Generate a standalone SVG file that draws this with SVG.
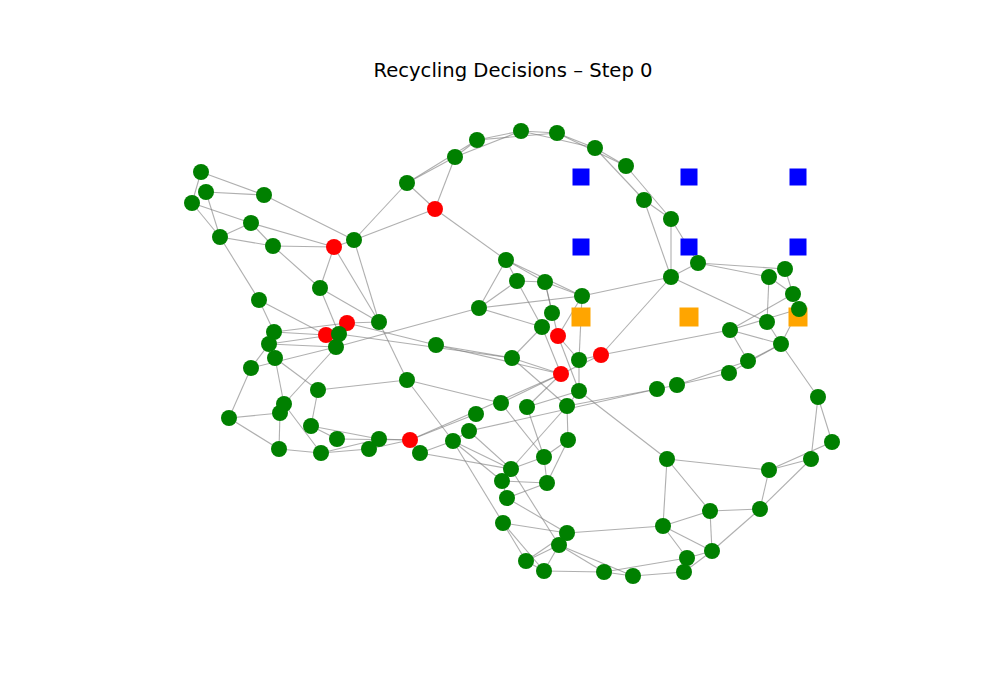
<svg xmlns="http://www.w3.org/2000/svg" width="1000" height="700" viewBox="0 0 1000 700">
<style>
.e line{stroke:#7a7a7a;stroke-opacity:0.6;stroke-width:1.1}
.g{fill:#008000}
.r{fill:#ff0000}
.b{fill:#0000ff}
.o{fill:#ffa500}
.t{font-family:"DejaVu Sans",sans-serif;font-size:19.6px;fill:#000}
circle{r:8px}
</style>
<rect width="1000" height="700" fill="#ffffff"/>
<text class="t" x="513" y="77" text-anchor="middle">Recycling Decisions – Step 0</text>
<g id="connectors" class="e">
<line x1="201" y1="172" x2="264" y2="195"/>
<line x1="201" y1="172" x2="192" y2="203"/>
<line x1="206" y1="192" x2="264" y2="195"/>
<line x1="206" y1="192" x2="220" y2="237"/>
<line x1="192" y1="203" x2="251" y2="223"/>
<line x1="192" y1="203" x2="220" y2="237"/>
<line x1="251" y1="223" x2="220" y2="237"/>
<line x1="251" y1="223" x2="273" y2="246"/>
<line x1="251" y1="223" x2="334" y2="247"/>
<line x1="220" y1="237" x2="273" y2="246"/>
<line x1="273" y1="246" x2="334" y2="247"/>
<line x1="220" y1="237" x2="259" y2="300"/>
<line x1="264" y1="195" x2="354" y2="240"/>
<line x1="273" y1="246" x2="320" y2="288"/>
<line x1="334" y1="247" x2="320" y2="288"/>
<line x1="334" y1="247" x2="379" y2="322"/>
<line x1="354" y1="240" x2="379" y2="322"/>
<line x1="334" y1="247" x2="354" y2="240"/>
<line x1="354" y1="240" x2="407" y2="183"/>
<line x1="354" y1="240" x2="435" y2="209"/>
<line x1="407" y1="183" x2="435" y2="209"/>
<line x1="435" y1="209" x2="455" y2="157"/>
<line x1="435" y1="209" x2="506" y2="260"/>
<line x1="407" y1="183" x2="455" y2="157"/>
<line x1="407" y1="183" x2="477" y2="140"/>
<line x1="455" y1="157" x2="477" y2="140"/>
<line x1="455" y1="157" x2="521" y2="131"/>
<line x1="477" y1="140" x2="521" y2="131"/>
<line x1="477" y1="140" x2="557" y2="133"/>
<line x1="521" y1="131" x2="557" y2="133"/>
<line x1="521" y1="131" x2="595" y2="148"/>
<line x1="557" y1="133" x2="595" y2="148"/>
<line x1="595" y1="148" x2="626" y2="166"/>
<line x1="557" y1="133" x2="626" y2="166"/>
<line x1="595" y1="148" x2="644" y2="200"/>
<line x1="626" y1="166" x2="671" y2="219"/>
<line x1="644" y1="200" x2="671" y2="219"/>
<line x1="644" y1="200" x2="671" y2="277"/>
<line x1="671" y1="219" x2="671" y2="277"/>
<line x1="671" y1="219" x2="698" y2="263"/>
<line x1="671" y1="277" x2="698" y2="263"/>
<line x1="698" y1="263" x2="769" y2="277"/>
<line x1="698" y1="263" x2="785" y2="269"/>
<line x1="769" y1="277" x2="793" y2="294"/>
<line x1="785" y1="269" x2="793" y2="294"/>
<line x1="769" y1="277" x2="767" y2="322"/>
<line x1="671" y1="277" x2="582" y2="296"/>
<line x1="671" y1="277" x2="601" y2="355"/>
<line x1="671" y1="277" x2="767" y2="322"/>
<line x1="793" y1="294" x2="730" y2="330"/>
<line x1="730" y1="330" x2="799" y2="309"/>
<line x1="767" y1="322" x2="781" y2="344"/>
<line x1="799" y1="309" x2="781" y2="344"/>
<line x1="730" y1="330" x2="781" y2="344"/>
<line x1="730" y1="330" x2="748" y2="361"/>
<line x1="781" y1="344" x2="748" y2="361"/>
<line x1="781" y1="344" x2="729" y2="373"/>
<line x1="748" y1="361" x2="677" y2="385"/>
<line x1="729" y1="373" x2="677" y2="385"/>
<line x1="677" y1="385" x2="657" y2="389"/>
<line x1="469" y1="431" x2="657" y2="389"/>
<line x1="567" y1="406" x2="657" y2="389"/>
<line x1="601" y1="355" x2="730" y2="330"/>
<line x1="781" y1="344" x2="818" y2="397"/>
<line x1="818" y1="397" x2="811" y2="459"/>
<line x1="818" y1="397" x2="832" y2="442"/>
<line x1="579" y1="391" x2="667" y2="459"/>
<line x1="667" y1="459" x2="769" y2="470"/>
<line x1="667" y1="459" x2="663" y2="526"/>
<line x1="667" y1="459" x2="710" y2="511"/>
<line x1="769" y1="470" x2="811" y2="459"/>
<line x1="769" y1="470" x2="832" y2="442"/>
<line x1="769" y1="470" x2="760" y2="509"/>
<line x1="811" y1="459" x2="760" y2="509"/>
<line x1="760" y1="509" x2="710" y2="511"/>
<line x1="760" y1="509" x2="712" y2="551"/>
<line x1="710" y1="511" x2="712" y2="551"/>
<line x1="710" y1="511" x2="663" y2="526"/>
<line x1="663" y1="526" x2="712" y2="551"/>
<line x1="663" y1="526" x2="687" y2="558"/>
<line x1="663" y1="526" x2="567" y2="533"/>
<line x1="712" y1="551" x2="684" y2="572"/>
<line x1="712" y1="551" x2="687" y2="558"/>
<line x1="687" y1="558" x2="604" y2="572"/>
<line x1="684" y1="572" x2="633" y2="576"/>
<line x1="633" y1="576" x2="604" y2="572"/>
<line x1="604" y1="572" x2="544" y2="571"/>
<line x1="559" y1="545" x2="604" y2="572"/>
<line x1="559" y1="545" x2="633" y2="576"/>
<line x1="410" y1="440" x2="420" y2="453"/>
<line x1="420" y1="453" x2="453" y2="441"/>
<line x1="420" y1="453" x2="511" y2="469"/>
<line x1="453" y1="441" x2="469" y2="431"/>
<line x1="453" y1="441" x2="502" y2="481"/>
<line x1="453" y1="441" x2="503" y2="523"/>
<line x1="453" y1="441" x2="511" y2="469"/>
<line x1="469" y1="431" x2="511" y2="469"/>
<line x1="407" y1="380" x2="453" y2="441"/>
<line x1="544" y1="457" x2="568" y2="440"/>
<line x1="544" y1="457" x2="547" y2="483"/>
<line x1="568" y1="440" x2="547" y2="483"/>
<line x1="544" y1="457" x2="511" y2="469"/>
<line x1="511" y1="469" x2="502" y2="481"/>
<line x1="502" y1="481" x2="547" y2="483"/>
<line x1="507" y1="498" x2="547" y2="483"/>
<line x1="502" y1="481" x2="507" y2="498"/>
<line x1="507" y1="498" x2="567" y2="533"/>
<line x1="503" y1="523" x2="567" y2="533"/>
<line x1="503" y1="523" x2="526" y2="561"/>
<line x1="503" y1="523" x2="544" y2="571"/>
<line x1="526" y1="561" x2="559" y2="545"/>
<line x1="526" y1="561" x2="567" y2="533"/>
<line x1="544" y1="571" x2="559" y2="545"/>
<line x1="526" y1="561" x2="544" y2="571"/>
<line x1="511" y1="469" x2="559" y2="545"/>
<line x1="544" y1="457" x2="527" y2="407"/>
<line x1="568" y1="440" x2="567" y2="406"/>
<line x1="511" y1="469" x2="567" y2="406"/>
<line x1="229" y1="418" x2="280" y2="413"/>
<line x1="229" y1="418" x2="279" y2="449"/>
<line x1="280" y1="413" x2="279" y2="449"/>
<line x1="284" y1="404" x2="321" y2="453"/>
<line x1="279" y1="449" x2="321" y2="453"/>
<line x1="311" y1="426" x2="337" y2="439"/>
<line x1="311" y1="426" x2="379" y2="439"/>
<line x1="337" y1="439" x2="410" y2="440"/>
<line x1="321" y1="453" x2="369" y2="449"/>
<line x1="321" y1="453" x2="379" y2="439"/>
<line x1="369" y1="449" x2="379" y2="439"/>
<line x1="379" y1="439" x2="410" y2="440"/>
<line x1="369" y1="449" x2="410" y2="440"/>
<line x1="259" y1="300" x2="274" y2="332"/>
<line x1="259" y1="300" x2="326" y2="335"/>
<line x1="320" y1="288" x2="339" y2="334"/>
<line x1="320" y1="288" x2="379" y2="322"/>
<line x1="274" y1="332" x2="347" y2="323"/>
<line x1="274" y1="332" x2="326" y2="335"/>
<line x1="269" y1="344" x2="339" y2="334"/>
<line x1="269" y1="344" x2="336" y2="347"/>
<line x1="274" y1="332" x2="269" y2="344"/>
<line x1="269" y1="344" x2="251" y2="368"/>
<line x1="251" y1="368" x2="336" y2="347"/>
<line x1="275" y1="358" x2="318" y2="390"/>
<line x1="275" y1="358" x2="284" y2="404"/>
<line x1="251" y1="368" x2="229" y2="418"/>
<line x1="336" y1="347" x2="479" y2="308"/>
<line x1="336" y1="347" x2="284" y2="404"/>
<line x1="339" y1="334" x2="512" y2="358"/>
<line x1="347" y1="323" x2="436" y2="345"/>
<line x1="347" y1="323" x2="379" y2="322"/>
<line x1="318" y1="390" x2="407" y2="380"/>
<line x1="318" y1="390" x2="311" y2="426"/>
<line x1="379" y1="322" x2="407" y2="380"/>
<line x1="407" y1="380" x2="501" y2="403"/>
<line x1="506" y1="260" x2="517" y2="281"/>
<line x1="506" y1="260" x2="545" y2="282"/>
<line x1="506" y1="260" x2="479" y2="308"/>
<line x1="506" y1="260" x2="582" y2="296"/>
<line x1="517" y1="281" x2="545" y2="282"/>
<line x1="517" y1="281" x2="479" y2="308"/>
<line x1="517" y1="281" x2="542" y2="327"/>
<line x1="545" y1="282" x2="552" y2="313"/>
<line x1="545" y1="282" x2="558" y2="336"/>
<line x1="545" y1="282" x2="582" y2="296"/>
<line x1="479" y1="308" x2="582" y2="296"/>
<line x1="582" y1="296" x2="558" y2="336"/>
<line x1="582" y1="296" x2="579" y2="360"/>
<line x1="479" y1="308" x2="542" y2="327"/>
<line x1="542" y1="327" x2="552" y2="313"/>
<line x1="542" y1="327" x2="512" y2="358"/>
<line x1="542" y1="327" x2="561" y2="374"/>
<line x1="558" y1="336" x2="579" y2="360"/>
<line x1="558" y1="336" x2="579" y2="391"/>
<line x1="579" y1="360" x2="601" y2="355"/>
<line x1="579" y1="360" x2="579" y2="391"/>
<line x1="561" y1="374" x2="601" y2="355"/>
<line x1="561" y1="374" x2="512" y2="358"/>
<line x1="436" y1="345" x2="512" y2="358"/>
<line x1="436" y1="345" x2="561" y2="374"/>
<line x1="512" y1="358" x2="567" y2="406"/>
<line x1="410" y1="440" x2="561" y2="374"/>
<line x1="410" y1="440" x2="476" y2="414"/>
<line x1="501" y1="403" x2="561" y2="374"/>
<line x1="527" y1="407" x2="561" y2="374"/>
<line x1="527" y1="407" x2="579" y2="391"/>
<line x1="579" y1="391" x2="567" y2="406"/>
<line x1="501" y1="403" x2="544" y2="457"/>
</g>
<g id="squares">
<rect id="blue1" class="b" x="572.5" y="168.5" width="17" height="17"/>
<rect id="blue2" class="b" x="680.5" y="168.5" width="17" height="17"/>
<rect id="blue3" class="b" x="789.5" y="168.5" width="17" height="17"/>
<rect id="blue4" class="b" x="572.5" y="238.5" width="17" height="17"/>
<rect id="blue5" class="b" x="680.5" y="238.5" width="17" height="17"/>
<rect id="blue6" class="b" x="789.5" y="238.5" width="17" height="17"/>
<rect id="orange1" class="o" x="571.5" y="307.5" width="19" height="19"/>
<rect id="orange2" class="o" x="679.5" y="307.5" width="19" height="19"/>
<rect id="orange3" class="o" x="788.5" y="307.5" width="19" height="19"/>
</g>
<g id="r1"><circle class="r" cx="334" cy="247" r="8"/></g>
<g id="r2"><circle class="r" cx="435" cy="209" r="8"/></g>
<g id="r3"><circle class="r" cx="561" cy="374" r="8"/></g>
<g id="r4"><circle class="r" cx="601" cy="355" r="8"/></g>
<g id="r5"><circle class="r" cx="558" cy="336" r="8"/></g>
<g id="r6"><circle class="r" cx="347" cy="323" r="8"/></g>
<g id="r7"><circle class="r" cx="326" cy="335" r="8"/></g>
<g id="r8"><circle class="r" cx="410" cy="440" r="8"/></g>
<g id="n1"><circle class="g" cx="201" cy="172" r="8"/></g>
<g id="n2"><circle class="g" cx="206" cy="192" r="8"/></g>
<g id="n3"><circle class="g" cx="192" cy="203" r="8"/></g>
<g id="n4"><circle class="g" cx="264" cy="195" r="8"/></g>
<g id="n5"><circle class="g" cx="251" cy="223" r="8"/></g>
<g id="n6"><circle class="g" cx="220" cy="237" r="8"/></g>
<g id="n7"><circle class="g" cx="273" cy="246" r="8"/></g>
<g id="n8"><circle class="g" cx="354" cy="240" r="8"/></g>
<g id="n9"><circle class="g" cx="407" cy="183" r="8"/></g>
<g id="n10"><circle class="g" cx="455" cy="157" r="8"/></g>
<g id="n11"><circle class="g" cx="477" cy="140" r="8"/></g>
<g id="n12"><circle class="g" cx="521" cy="131" r="8"/></g>
<g id="n13"><circle class="g" cx="557" cy="133" r="8"/></g>
<g id="n14"><circle class="g" cx="595" cy="148" r="8"/></g>
<g id="n15"><circle class="g" cx="626" cy="166" r="8"/></g>
<g id="n16"><circle class="g" cx="644" cy="200" r="8"/></g>
<g id="n17"><circle class="g" cx="671" cy="219" r="8"/></g>
<g id="n18"><circle class="g" cx="671" cy="277" r="8"/></g>
<g id="n19"><circle class="g" cx="698" cy="263" r="8"/></g>
<g id="n20"><circle class="g" cx="769" cy="277" r="8"/></g>
<g id="n21"><circle class="g" cx="785" cy="269" r="8"/></g>
<g id="n22"><circle class="g" cx="793" cy="294" r="8"/></g>
<g id="n23"><circle class="g" cx="799" cy="309" r="8"/></g>
<g id="n24"><circle class="g" cx="767" cy="322" r="8"/></g>
<g id="n25"><circle class="g" cx="730" cy="330" r="8"/></g>
<g id="n26"><circle class="g" cx="781" cy="344" r="8"/></g>
<g id="n27"><circle class="g" cx="748" cy="361" r="8"/></g>
<g id="n28"><circle class="g" cx="729" cy="373" r="8"/></g>
<g id="n29"><circle class="g" cx="677" cy="385" r="8"/></g>
<g id="n30"><circle class="g" cx="657" cy="389" r="8"/></g>
<g id="n31"><circle class="g" cx="818" cy="397" r="8"/></g>
<g id="n32"><circle class="g" cx="832" cy="442" r="8"/></g>
<g id="n33"><circle class="g" cx="811" cy="459" r="8"/></g>
<g id="n34"><circle class="g" cx="769" cy="470" r="8"/></g>
<g id="n35"><circle class="g" cx="760" cy="509" r="8"/></g>
<g id="n36"><circle class="g" cx="710" cy="511" r="8"/></g>
<g id="n37"><circle class="g" cx="712" cy="551" r="8"/></g>
<g id="n38"><circle class="g" cx="687" cy="558" r="8"/></g>
<g id="n39"><circle class="g" cx="684" cy="572" r="8"/></g>
<g id="n40"><circle class="g" cx="663" cy="526" r="8"/></g>
<g id="n41"><circle class="g" cx="667" cy="459" r="8"/></g>
<g id="n42"><circle class="g" cx="633" cy="576" r="8"/></g>
<g id="n43"><circle class="g" cx="604" cy="572" r="8"/></g>
<g id="n44"><circle class="g" cx="544" cy="571" r="8"/></g>
<g id="n45"><circle class="g" cx="526" cy="561" r="8"/></g>
<g id="n46"><circle class="g" cx="559" cy="545" r="8"/></g>
<g id="n47"><circle class="g" cx="567" cy="533" r="8"/></g>
<g id="n48"><circle class="g" cx="503" cy="523" r="8"/></g>
<g id="n49"><circle class="g" cx="507" cy="498" r="8"/></g>
<g id="n50"><circle class="g" cx="502" cy="481" r="8"/></g>
<g id="n51"><circle class="g" cx="511" cy="469" r="8"/></g>
<g id="n52"><circle class="g" cx="547" cy="483" r="8"/></g>
<g id="n53"><circle class="g" cx="544" cy="457" r="8"/></g>
<g id="n54"><circle class="g" cx="568" cy="440" r="8"/></g>
<g id="n55"><circle class="g" cx="567" cy="406" r="8"/></g>
<g id="n56"><circle class="g" cx="579" cy="391" r="8"/></g>
<g id="n57"><circle class="g" cx="579" cy="360" r="8"/></g>
<g id="n58"><circle class="g" cx="542" cy="327" r="8"/></g>
<g id="n59"><circle class="g" cx="552" cy="313" r="8"/></g>
<g id="n60"><circle class="g" cx="582" cy="296" r="8"/></g>
<g id="n61"><circle class="g" cx="545" cy="282" r="8"/></g>
<g id="n62"><circle class="g" cx="517" cy="281" r="8"/></g>
<g id="n63"><circle class="g" cx="506" cy="260" r="8"/></g>
<g id="n64"><circle class="g" cx="479" cy="308" r="8"/></g>
<g id="n65"><circle class="g" cx="512" cy="358" r="8"/></g>
<g id="n66"><circle class="g" cx="436" cy="345" r="8"/></g>
<g id="n67"><circle class="g" cx="407" cy="380" r="8"/></g>
<g id="n68"><circle class="g" cx="379" cy="322" r="8"/></g>
<g id="n69"><circle class="g" cx="320" cy="288" r="8"/></g>
<g id="n70"><circle class="g" cx="339" cy="334" r="8"/></g>
<g id="n71"><circle class="g" cx="336" cy="347" r="8"/></g>
<g id="n72"><circle class="g" cx="259" cy="300" r="8"/></g>
<g id="n73"><circle class="g" cx="274" cy="332" r="8"/></g>
<g id="n74"><circle class="g" cx="269" cy="344" r="8"/></g>
<g id="n75"><circle class="g" cx="275" cy="358" r="8"/></g>
<g id="n76"><circle class="g" cx="251" cy="368" r="8"/></g>
<g id="n77"><circle class="g" cx="318" cy="390" r="8"/></g>
<g id="n78"><circle class="g" cx="284" cy="404" r="8"/></g>
<g id="n79"><circle class="g" cx="280" cy="413" r="8"/></g>
<g id="n80"><circle class="g" cx="229" cy="418" r="8"/></g>
<g id="n81"><circle class="g" cx="311" cy="426" r="8"/></g>
<g id="n82"><circle class="g" cx="279" cy="449" r="8"/></g>
<g id="n83"><circle class="g" cx="321" cy="453" r="8"/></g>
<g id="n84"><circle class="g" cx="337" cy="439" r="8"/></g>
<g id="n85"><circle class="g" cx="369" cy="449" r="8"/></g>
<g id="n86"><circle class="g" cx="379" cy="439" r="8"/></g>
<g id="n87"><circle class="g" cx="420" cy="453" r="8"/></g>
<g id="n88"><circle class="g" cx="453" cy="441" r="8"/></g>
<g id="n89"><circle class="g" cx="469" cy="431" r="8"/></g>
<g id="n90"><circle class="g" cx="476" cy="414" r="8"/></g>
<g id="n91"><circle class="g" cx="501" cy="403" r="8"/></g>
<g id="n92"><circle class="g" cx="527" cy="407" r="8"/></g>
</svg>
